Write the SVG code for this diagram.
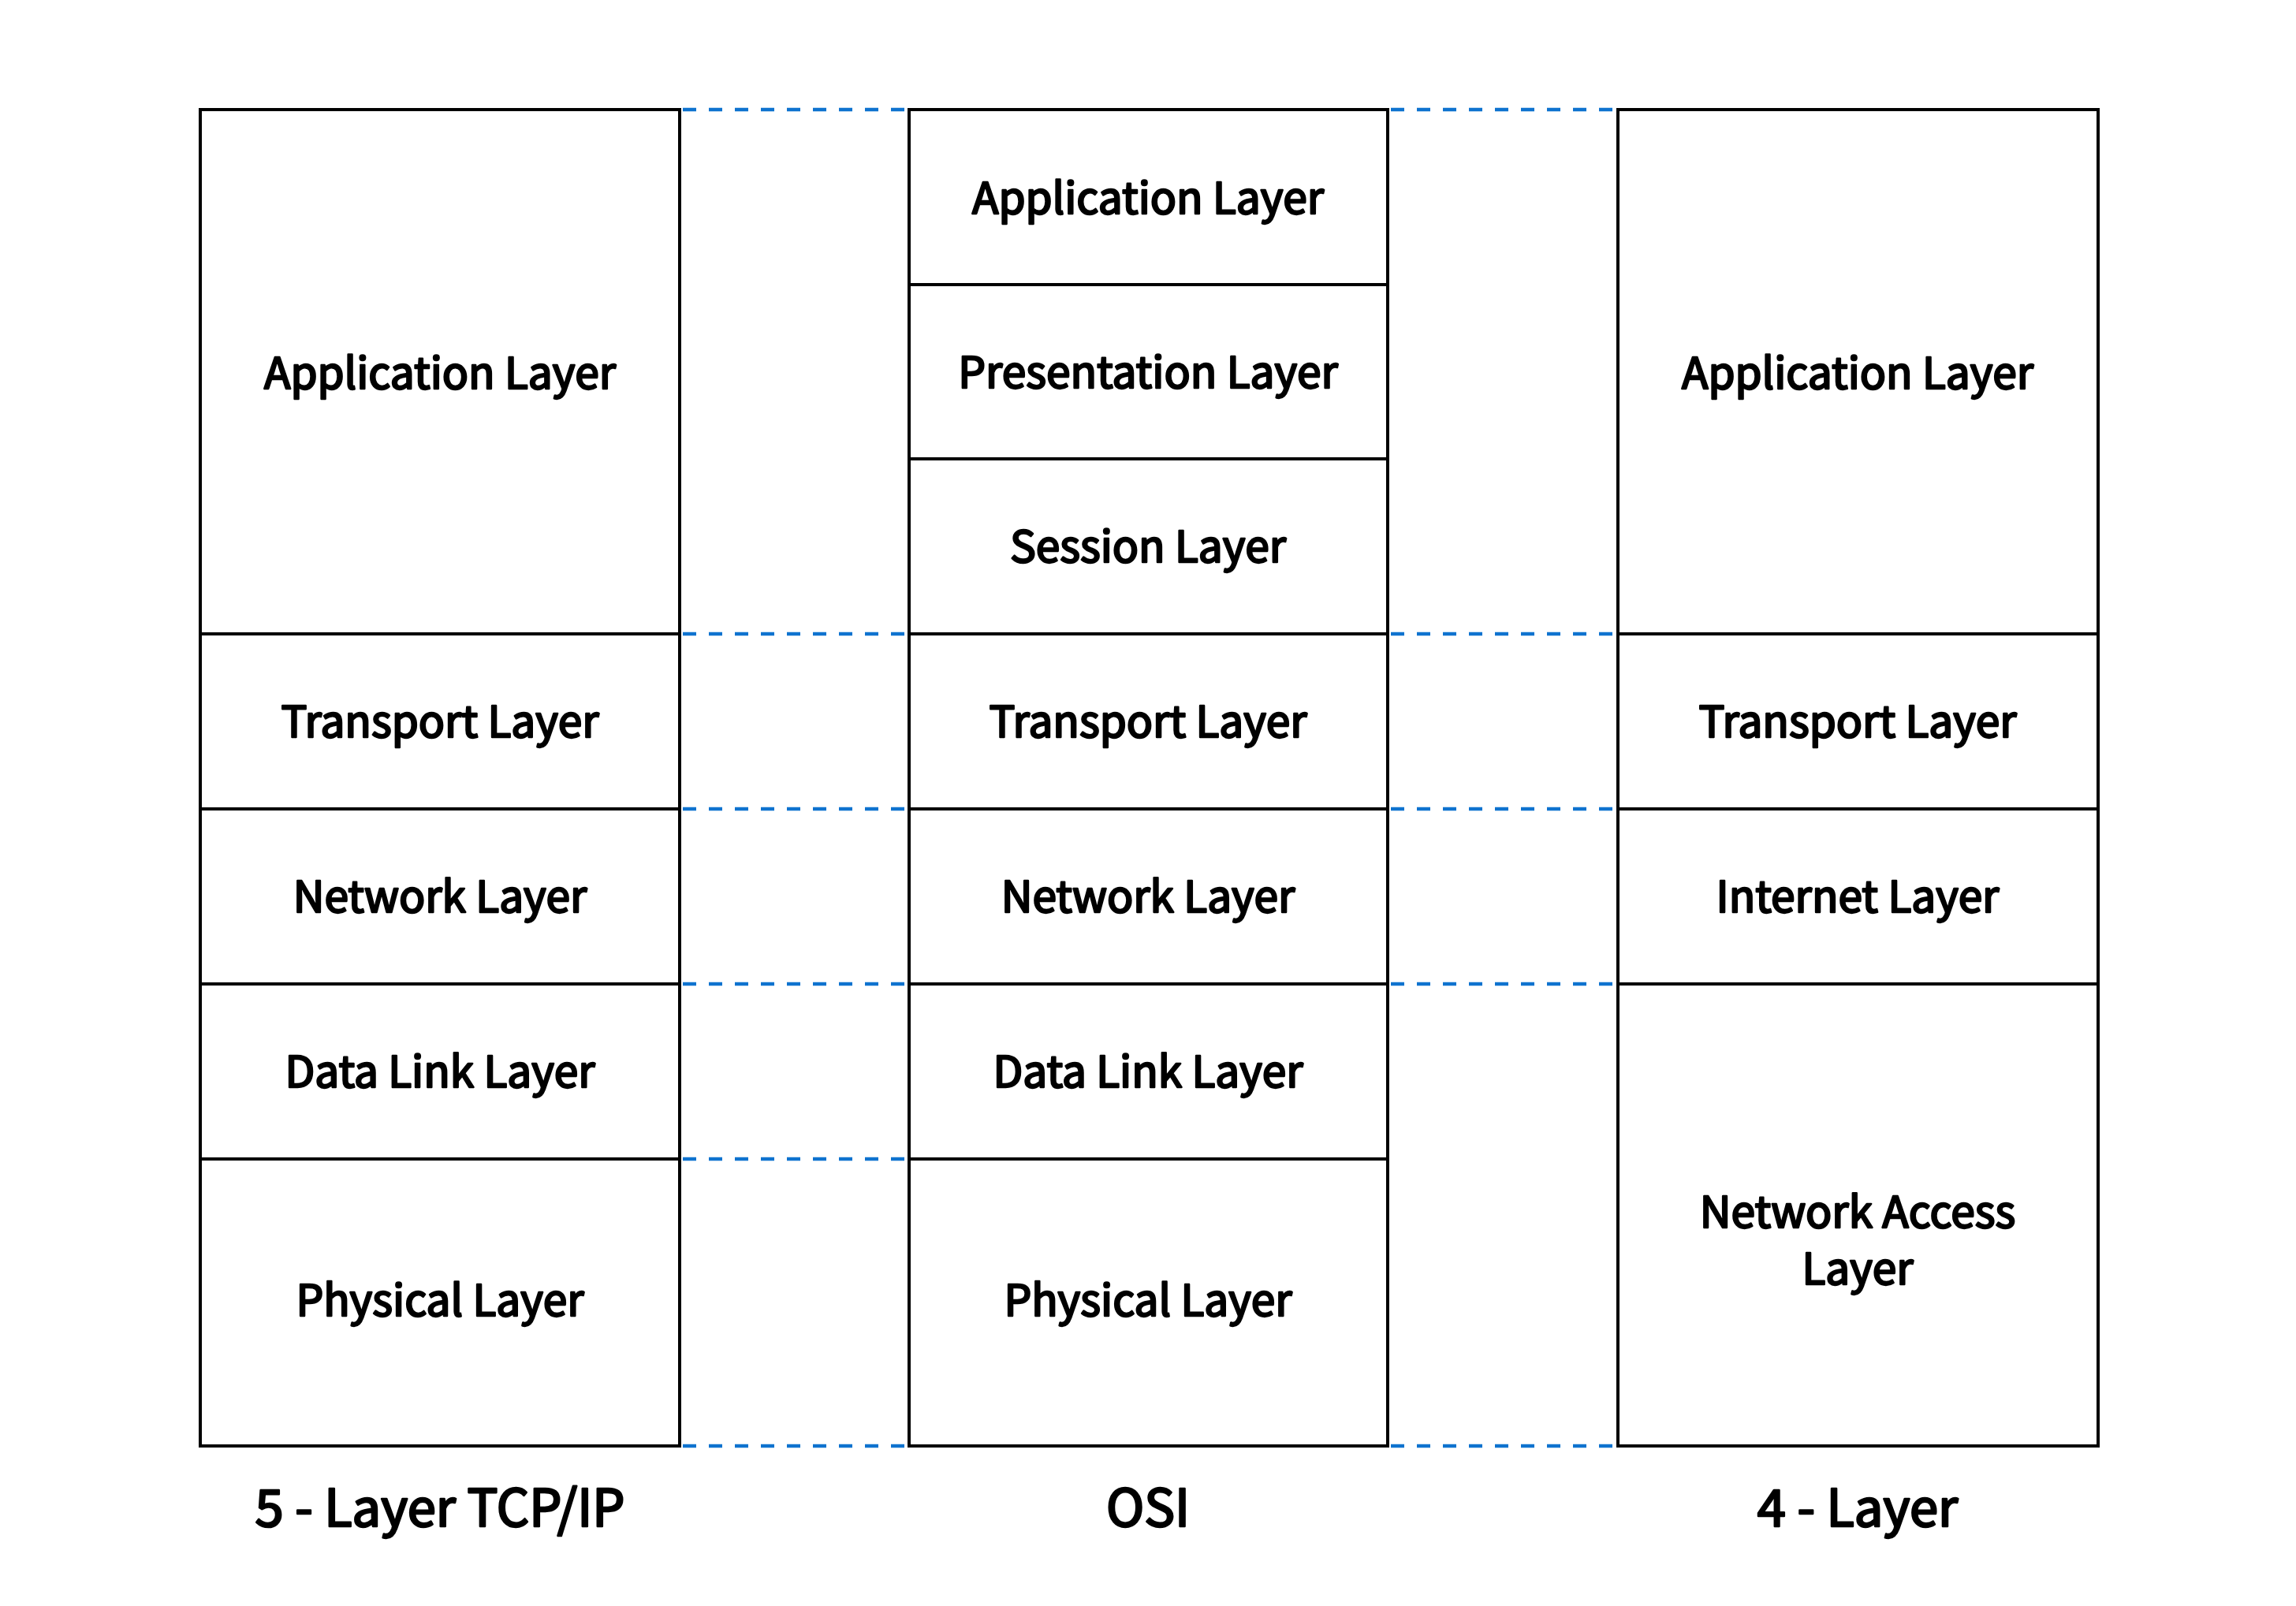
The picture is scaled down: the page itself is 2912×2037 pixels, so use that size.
<svg xmlns="http://www.w3.org/2000/svg" width="2912" height="2037" viewBox="0 0 2912 2037">
<style>
.box{fill:#ffffff;stroke:#000000;stroke-width:4}
.lbl{font-family:"Noto Sans CJK SC","Source Sans Pro","Noto Sans",sans-serif;font-weight:400;font-size:55px;fill:#000000;stroke:#000000;stroke-width:2.4;stroke-linejoin:round;text-anchor:middle}
.ttl{font-family:"Noto Sans CJK SC","Source Sans Pro","Noto Sans",sans-serif;font-weight:400;font-size:65px;fill:#000000;stroke:#000000;stroke-width:2.6;stroke-linejoin:round;text-anchor:middle}
.dash{stroke:#0f73cf;stroke-width:4.5;stroke-dasharray:17 16;fill:none}
</style>
<rect x="0" y="0" width="2912" height="2037" fill="#ffffff"/>
<g id="connectors">
<line class="dash" x1="866" y1="139" x2="1150" y2="139"/>
<line class="dash" x1="866" y1="804" x2="1150" y2="804"/>
<line class="dash" x1="866" y1="1026" x2="1150" y2="1026"/>
<line class="dash" x1="866" y1="1248" x2="1150" y2="1248"/>
<line class="dash" x1="866" y1="1470" x2="1150" y2="1470"/>
<line class="dash" x1="866" y1="1834" x2="1150" y2="1834"/>
<line class="dash" x1="1764" y1="139" x2="2048" y2="139"/>
<line class="dash" x1="1764" y1="804" x2="2048" y2="804"/>
<line class="dash" x1="1764" y1="1026" x2="2048" y2="1026"/>
<line class="dash" x1="1764" y1="1248" x2="2048" y2="1248"/>
<line class="dash" x1="1764" y1="1834" x2="2048" y2="1834"/>
</g>
<g id="tcp5-application"><rect class="box" x="254" y="139" width="608" height="665"/><text class="lbl" x="558" y="493">Application Layer</text></g>
<g id="tcp5-transport"><rect class="box" x="254" y="804" width="608" height="222"/><text class="lbl" x="558" y="935">Transport Layer</text></g>
<g id="tcp5-network"><rect class="box" x="254" y="1026" width="608" height="222"/><text class="lbl" x="558" y="1157">Network Layer</text></g>
<g id="tcp5-datalink"><rect class="box" x="254" y="1248" width="608" height="222"/><text class="lbl" x="558" y="1379">Data Link Layer</text></g>
<g id="tcp5-physical"><rect class="box" x="254" y="1470" width="608" height="364"/><text class="lbl" x="558" y="1669">Physical Layer</text></g>
<g id="osi-application"><rect class="box" x="1153" y="139" width="607" height="222"/><text class="lbl" x="1456" y="271">Application Layer</text></g>
<g id="osi-presentation"><rect class="box" x="1153" y="361" width="607" height="221"/><text class="lbl" x="1456" y="492">Presentation Layer</text></g>
<g id="osi-session"><rect class="box" x="1153" y="582" width="607" height="222"/><text class="lbl" x="1456" y="713">Session Layer</text></g>
<g id="osi-transport"><rect class="box" x="1153" y="804" width="607" height="222"/><text class="lbl" x="1456" y="935">Transport Layer</text></g>
<g id="osi-network"><rect class="box" x="1153" y="1026" width="607" height="222"/><text class="lbl" x="1456" y="1157">Network Layer</text></g>
<g id="osi-datalink"><rect class="box" x="1153" y="1248" width="607" height="222"/><text class="lbl" x="1456" y="1379">Data Link Layer</text></g>
<g id="osi-physical"><rect class="box" x="1153" y="1470" width="607" height="364"/><text class="lbl" x="1456" y="1669">Physical Layer</text></g>
<g id="tcp4-application"><rect class="box" x="2052" y="139" width="609" height="665"/><text class="lbl" x="2356" y="493">Application Layer</text></g>
<g id="tcp4-transport"><rect class="box" x="2052" y="804" width="609" height="222"/><text class="lbl" x="2356" y="935">Transport Layer</text></g>
<g id="tcp4-internet"><rect class="box" x="2052" y="1026" width="609" height="222"/><text class="lbl" x="2356" y="1157">Internet Layer</text></g>
<g id="tcp4-networkaccess"><rect class="box" x="2052" y="1248" width="609" height="586"/><text class="lbl" x="2356" y="1557">Network Access</text><text class="lbl" x="2356" y="1629">Layer</text></g>
<g id="titles">
<text class="ttl" x="558" y="1936">5 - Layer TCP/IP</text>
<text class="ttl" x="1456" y="1936">OSI</text>
<text class="ttl" x="2356" y="1936">4 - Layer</text>
</g>
</svg>
